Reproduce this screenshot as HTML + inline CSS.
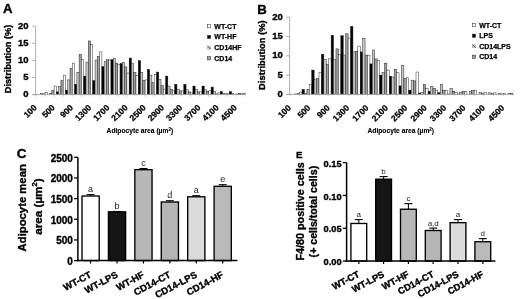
<!DOCTYPE html>
<html><head><meta charset="utf-8"><title>Figure</title>
<style>html,body{margin:0;padding:0;background:#fff;}svg{display:block;will-change:transform;filter:blur(0.3px);}text{font-family:"Liberation Sans",sans-serif;}text[font-weight="bold"]{stroke:#000;stroke-linejoin:round;}</style>
</head><body>
<svg width="520" height="299" viewBox="0 0 520 299">
<defs><pattern id="hatch" patternUnits="userSpaceOnUse" width="2" height="2"><rect width="2" height="2" fill="#e6e6e6"/><path d="M-0.5,-0.5 L2.5,2.5" stroke="#8a8a8a" stroke-width="0.6"/></pattern></defs>
<rect x="0" y="0" width="520" height="299" fill="#fff"/>
<text x="3.00" y="12.50" font-size="13.2" text-anchor="start" font-weight="bold" fill="#000" stroke-width="0.35">A</text>
<rect x="35.90" y="94.43" width="2.27" height="0.17" fill="#ffffff" stroke="#1a1a1a" stroke-width="0.45"/>
<rect x="40.45" y="93.57" width="2.27" height="1.03" fill="#c6c6c6" stroke="#1a1a1a" stroke-width="0.45"/>
<rect x="42.72" y="93.92" width="2.27" height="0.68" fill="#a0a0a0" stroke="#1a1a1a" stroke-width="0.45"/>
<rect x="45.00" y="92.55" width="2.27" height="2.05" fill="#ffffff" stroke="#1a1a1a" stroke-width="0.45"/>
<rect x="49.55" y="93.57" width="2.27" height="1.03" fill="#c6c6c6" stroke="#1a1a1a" stroke-width="0.45"/>
<rect x="51.83" y="90.15" width="2.27" height="4.45" fill="#a0a0a0" stroke="#1a1a1a" stroke-width="0.45"/>
<rect x="54.10" y="86.05" width="2.27" height="8.55" fill="#ffffff" stroke="#1a1a1a" stroke-width="0.45"/>
<rect x="56.37" y="91.86" width="2.27" height="2.74" fill="#000000" stroke="#1a1a1a" stroke-width="0.45"/>
<rect x="58.65" y="86.73" width="2.27" height="7.87" fill="#c6c6c6" stroke="#1a1a1a" stroke-width="0.45"/>
<rect x="60.92" y="80.58" width="2.27" height="14.02" fill="#a0a0a0" stroke="#1a1a1a" stroke-width="0.45"/>
<rect x="63.20" y="75.11" width="2.27" height="19.49" fill="#ffffff" stroke="#1a1a1a" stroke-width="0.45"/>
<rect x="65.47" y="90.15" width="2.27" height="4.45" fill="#000000" stroke="#1a1a1a" stroke-width="0.45"/>
<rect x="67.75" y="79.89" width="2.27" height="14.71" fill="#c6c6c6" stroke="#1a1a1a" stroke-width="0.45"/>
<rect x="70.02" y="68.27" width="2.27" height="26.33" fill="#a0a0a0" stroke="#1a1a1a" stroke-width="0.45"/>
<rect x="72.30" y="63.14" width="2.27" height="31.46" fill="#ffffff" stroke="#1a1a1a" stroke-width="0.45"/>
<rect x="74.58" y="84.34" width="2.27" height="10.26" fill="#000000" stroke="#1a1a1a" stroke-width="0.45"/>
<rect x="76.85" y="72.37" width="2.27" height="22.23" fill="#c6c6c6" stroke="#1a1a1a" stroke-width="0.45"/>
<rect x="79.12" y="54.24" width="2.27" height="40.36" fill="#a0a0a0" stroke="#1a1a1a" stroke-width="0.45"/>
<rect x="81.40" y="59.37" width="2.27" height="35.23" fill="#ffffff" stroke="#1a1a1a" stroke-width="0.45"/>
<rect x="83.68" y="76.13" width="2.27" height="18.47" fill="#000000" stroke="#1a1a1a" stroke-width="0.45"/>
<rect x="85.95" y="62.11" width="2.27" height="32.49" fill="#c6c6c6" stroke="#1a1a1a" stroke-width="0.45"/>
<rect x="88.23" y="40.91" width="2.27" height="53.69" fill="#a0a0a0" stroke="#1a1a1a" stroke-width="0.45"/>
<rect x="90.50" y="44.67" width="2.27" height="49.93" fill="#ffffff" stroke="#1a1a1a" stroke-width="0.45"/>
<rect x="92.78" y="80.58" width="2.27" height="14.02" fill="#000000" stroke="#1a1a1a" stroke-width="0.45"/>
<rect x="95.05" y="60.06" width="2.27" height="34.54" fill="#c6c6c6" stroke="#1a1a1a" stroke-width="0.45"/>
<rect x="97.33" y="56.30" width="2.27" height="38.30" fill="#a0a0a0" stroke="#1a1a1a" stroke-width="0.45"/>
<rect x="99.60" y="51.85" width="2.27" height="42.75" fill="#ffffff" stroke="#1a1a1a" stroke-width="0.45"/>
<rect x="101.88" y="66.56" width="2.27" height="28.04" fill="#000000" stroke="#1a1a1a" stroke-width="0.45"/>
<rect x="104.15" y="61.77" width="2.27" height="32.83" fill="#c6c6c6" stroke="#1a1a1a" stroke-width="0.45"/>
<rect x="106.42" y="59.72" width="2.27" height="34.88" fill="#a0a0a0" stroke="#1a1a1a" stroke-width="0.45"/>
<rect x="108.70" y="60.06" width="2.27" height="34.54" fill="#ffffff" stroke="#1a1a1a" stroke-width="0.45"/>
<rect x="110.97" y="59.72" width="2.27" height="34.88" fill="#000000" stroke="#1a1a1a" stroke-width="0.45"/>
<rect x="113.25" y="58.69" width="2.27" height="35.91" fill="#c6c6c6" stroke="#1a1a1a" stroke-width="0.45"/>
<rect x="115.52" y="63.14" width="2.27" height="31.46" fill="#a0a0a0" stroke="#1a1a1a" stroke-width="0.45"/>
<rect x="117.80" y="64.50" width="2.27" height="30.10" fill="#ffffff" stroke="#1a1a1a" stroke-width="0.45"/>
<rect x="120.07" y="63.48" width="2.27" height="31.12" fill="#000000" stroke="#1a1a1a" stroke-width="0.45"/>
<rect x="122.35" y="62.45" width="2.27" height="32.15" fill="#c6c6c6" stroke="#1a1a1a" stroke-width="0.45"/>
<rect x="124.62" y="66.90" width="2.27" height="27.70" fill="#a0a0a0" stroke="#1a1a1a" stroke-width="0.45"/>
<rect x="126.90" y="73.05" width="2.27" height="21.55" fill="#ffffff" stroke="#1a1a1a" stroke-width="0.45"/>
<rect x="129.18" y="58.01" width="2.27" height="36.59" fill="#000000" stroke="#1a1a1a" stroke-width="0.45"/>
<rect x="131.45" y="63.14" width="2.27" height="31.46" fill="#c6c6c6" stroke="#1a1a1a" stroke-width="0.45"/>
<rect x="133.72" y="72.37" width="2.27" height="22.23" fill="#a0a0a0" stroke="#1a1a1a" stroke-width="0.45"/>
<rect x="136.00" y="75.45" width="2.27" height="19.15" fill="#ffffff" stroke="#1a1a1a" stroke-width="0.45"/>
<rect x="138.28" y="60.74" width="2.27" height="33.86" fill="#000000" stroke="#1a1a1a" stroke-width="0.45"/>
<rect x="140.55" y="72.37" width="2.27" height="22.23" fill="#c6c6c6" stroke="#1a1a1a" stroke-width="0.45"/>
<rect x="142.82" y="80.24" width="2.27" height="14.36" fill="#a0a0a0" stroke="#1a1a1a" stroke-width="0.45"/>
<rect x="145.10" y="79.89" width="2.27" height="14.71" fill="#ffffff" stroke="#1a1a1a" stroke-width="0.45"/>
<rect x="147.38" y="69.29" width="2.27" height="25.31" fill="#000000" stroke="#1a1a1a" stroke-width="0.45"/>
<rect x="149.65" y="75.11" width="2.27" height="19.49" fill="#c6c6c6" stroke="#1a1a1a" stroke-width="0.45"/>
<rect x="151.92" y="82.63" width="2.27" height="11.97" fill="#a0a0a0" stroke="#1a1a1a" stroke-width="0.45"/>
<rect x="154.20" y="74.76" width="2.27" height="19.84" fill="#ffffff" stroke="#1a1a1a" stroke-width="0.45"/>
<rect x="156.47" y="72.03" width="2.27" height="22.57" fill="#000000" stroke="#1a1a1a" stroke-width="0.45"/>
<rect x="158.75" y="79.21" width="2.27" height="15.39" fill="#c6c6c6" stroke="#1a1a1a" stroke-width="0.45"/>
<rect x="161.02" y="85.71" width="2.27" height="8.89" fill="#a0a0a0" stroke="#1a1a1a" stroke-width="0.45"/>
<rect x="163.30" y="89.13" width="2.27" height="5.47" fill="#ffffff" stroke="#1a1a1a" stroke-width="0.45"/>
<rect x="165.57" y="76.13" width="2.27" height="18.47" fill="#000000" stroke="#1a1a1a" stroke-width="0.45"/>
<rect x="167.85" y="86.05" width="2.27" height="8.55" fill="#c6c6c6" stroke="#1a1a1a" stroke-width="0.45"/>
<rect x="170.12" y="89.13" width="2.27" height="5.47" fill="#a0a0a0" stroke="#1a1a1a" stroke-width="0.45"/>
<rect x="172.40" y="90.84" width="2.27" height="3.76" fill="#ffffff" stroke="#1a1a1a" stroke-width="0.45"/>
<rect x="174.68" y="84.34" width="2.27" height="10.26" fill="#000000" stroke="#1a1a1a" stroke-width="0.45"/>
<rect x="176.95" y="89.13" width="2.27" height="5.47" fill="#c6c6c6" stroke="#1a1a1a" stroke-width="0.45"/>
<rect x="179.22" y="90.84" width="2.27" height="3.76" fill="#a0a0a0" stroke="#1a1a1a" stroke-width="0.45"/>
<rect x="181.50" y="90.84" width="2.27" height="3.76" fill="#ffffff" stroke="#1a1a1a" stroke-width="0.45"/>
<rect x="183.78" y="84.34" width="2.27" height="10.26" fill="#000000" stroke="#1a1a1a" stroke-width="0.45"/>
<rect x="186.05" y="89.81" width="2.27" height="4.79" fill="#c6c6c6" stroke="#1a1a1a" stroke-width="0.45"/>
<rect x="188.32" y="91.86" width="2.27" height="2.74" fill="#a0a0a0" stroke="#1a1a1a" stroke-width="0.45"/>
<rect x="190.60" y="92.89" width="2.27" height="1.71" fill="#ffffff" stroke="#1a1a1a" stroke-width="0.45"/>
<rect x="192.88" y="86.05" width="2.27" height="8.55" fill="#000000" stroke="#1a1a1a" stroke-width="0.45"/>
<rect x="195.15" y="89.13" width="2.27" height="5.47" fill="#c6c6c6" stroke="#1a1a1a" stroke-width="0.45"/>
<rect x="197.42" y="91.86" width="2.27" height="2.74" fill="#a0a0a0" stroke="#1a1a1a" stroke-width="0.45"/>
<rect x="199.70" y="91.86" width="2.27" height="2.74" fill="#ffffff" stroke="#1a1a1a" stroke-width="0.45"/>
<rect x="201.97" y="86.05" width="2.27" height="8.55" fill="#000000" stroke="#1a1a1a" stroke-width="0.45"/>
<rect x="204.25" y="89.81" width="2.27" height="4.79" fill="#c6c6c6" stroke="#1a1a1a" stroke-width="0.45"/>
<rect x="206.52" y="91.18" width="2.27" height="3.42" fill="#a0a0a0" stroke="#1a1a1a" stroke-width="0.45"/>
<rect x="208.80" y="90.84" width="2.27" height="3.76" fill="#ffffff" stroke="#1a1a1a" stroke-width="0.45"/>
<rect x="211.08" y="87.08" width="2.27" height="7.52" fill="#000000" stroke="#1a1a1a" stroke-width="0.45"/>
<rect x="213.35" y="91.18" width="2.27" height="3.42" fill="#c6c6c6" stroke="#1a1a1a" stroke-width="0.45"/>
<rect x="215.62" y="93.92" width="2.27" height="0.68" fill="#a0a0a0" stroke="#1a1a1a" stroke-width="0.45"/>
<rect x="217.90" y="92.89" width="2.27" height="1.71" fill="#ffffff" stroke="#1a1a1a" stroke-width="0.45"/>
<rect x="220.18" y="91.69" width="2.27" height="2.91" fill="#000000" stroke="#1a1a1a" stroke-width="0.45"/>
<rect x="222.45" y="93.23" width="2.27" height="1.37" fill="#c6c6c6" stroke="#1a1a1a" stroke-width="0.45"/>
<rect x="224.72" y="93.92" width="2.27" height="0.68" fill="#a0a0a0" stroke="#1a1a1a" stroke-width="0.45"/>
<rect x="227.00" y="93.23" width="2.27" height="1.37" fill="#ffffff" stroke="#1a1a1a" stroke-width="0.45"/>
<rect x="229.28" y="91.69" width="2.27" height="2.91" fill="#000000" stroke="#1a1a1a" stroke-width="0.45"/>
<rect x="231.55" y="93.57" width="2.27" height="1.03" fill="#c6c6c6" stroke="#1a1a1a" stroke-width="0.45"/>
<rect x="233.82" y="94.26" width="2.27" height="0.34" fill="#a0a0a0" stroke="#1a1a1a" stroke-width="0.45"/>
<rect x="236.10" y="93.92" width="2.27" height="0.68" fill="#ffffff" stroke="#1a1a1a" stroke-width="0.45"/>
<rect x="238.38" y="93.57" width="2.27" height="1.03" fill="#000000" stroke="#1a1a1a" stroke-width="0.45"/>
<rect x="240.65" y="93.92" width="2.27" height="0.68" fill="#c6c6c6" stroke="#1a1a1a" stroke-width="0.45"/>
<rect x="242.92" y="93.57" width="2.27" height="1.03" fill="#a0a0a0" stroke="#1a1a1a" stroke-width="0.45"/>
<line x1="35.60" y1="26.20" x2="35.60" y2="94.60" stroke="#a8a8a8" stroke-width="0.9"/>
<line x1="32.10" y1="94.60" x2="245.20" y2="94.60" stroke="#a8a8a8" stroke-width="0.9"/>
<line x1="32.10" y1="94.60" x2="35.60" y2="94.60" stroke="#a8a8a8" stroke-width="0.9"/>
<text x="28.60" y="97.20" font-size="9.5" text-anchor="end" font-weight="bold" fill="#000" stroke-width="0.35">0</text>
<line x1="32.10" y1="77.50" x2="35.60" y2="77.50" stroke="#a8a8a8" stroke-width="0.9"/>
<text x="28.60" y="80.10" font-size="9.5" text-anchor="end" font-weight="bold" fill="#000" stroke-width="0.35">5</text>
<line x1="32.10" y1="60.40" x2="35.60" y2="60.40" stroke="#a8a8a8" stroke-width="0.9"/>
<text x="28.60" y="63.00" font-size="9.5" text-anchor="end" font-weight="bold" fill="#000" stroke-width="0.35">10</text>
<line x1="32.10" y1="43.30" x2="35.60" y2="43.30" stroke="#a8a8a8" stroke-width="0.9"/>
<text x="28.60" y="45.90" font-size="9.5" text-anchor="end" font-weight="bold" fill="#000" stroke-width="0.35">15</text>
<line x1="32.10" y1="26.20" x2="35.60" y2="26.20" stroke="#a8a8a8" stroke-width="0.9"/>
<text x="28.60" y="28.80" font-size="9.5" text-anchor="end" font-weight="bold" fill="#000" stroke-width="0.35">20</text>
<line x1="35.90" y1="94.60" x2="35.90" y2="96.60" stroke="#b0b0b0" stroke-width="0.6"/>
<line x1="45.00" y1="94.60" x2="45.00" y2="96.60" stroke="#b0b0b0" stroke-width="0.6"/>
<line x1="54.10" y1="94.60" x2="54.10" y2="96.60" stroke="#b0b0b0" stroke-width="0.6"/>
<line x1="63.20" y1="94.60" x2="63.20" y2="96.60" stroke="#b0b0b0" stroke-width="0.6"/>
<line x1="72.30" y1="94.60" x2="72.30" y2="96.60" stroke="#b0b0b0" stroke-width="0.6"/>
<line x1="81.40" y1="94.60" x2="81.40" y2="96.60" stroke="#b0b0b0" stroke-width="0.6"/>
<line x1="90.50" y1="94.60" x2="90.50" y2="96.60" stroke="#b0b0b0" stroke-width="0.6"/>
<line x1="99.60" y1="94.60" x2="99.60" y2="96.60" stroke="#b0b0b0" stroke-width="0.6"/>
<line x1="108.70" y1="94.60" x2="108.70" y2="96.60" stroke="#b0b0b0" stroke-width="0.6"/>
<line x1="117.80" y1="94.60" x2="117.80" y2="96.60" stroke="#b0b0b0" stroke-width="0.6"/>
<line x1="126.90" y1="94.60" x2="126.90" y2="96.60" stroke="#b0b0b0" stroke-width="0.6"/>
<line x1="136.00" y1="94.60" x2="136.00" y2="96.60" stroke="#b0b0b0" stroke-width="0.6"/>
<line x1="145.10" y1="94.60" x2="145.10" y2="96.60" stroke="#b0b0b0" stroke-width="0.6"/>
<line x1="154.20" y1="94.60" x2="154.20" y2="96.60" stroke="#b0b0b0" stroke-width="0.6"/>
<line x1="163.30" y1="94.60" x2="163.30" y2="96.60" stroke="#b0b0b0" stroke-width="0.6"/>
<line x1="172.40" y1="94.60" x2="172.40" y2="96.60" stroke="#b0b0b0" stroke-width="0.6"/>
<line x1="181.50" y1="94.60" x2="181.50" y2="96.60" stroke="#b0b0b0" stroke-width="0.6"/>
<line x1="190.60" y1="94.60" x2="190.60" y2="96.60" stroke="#b0b0b0" stroke-width="0.6"/>
<line x1="199.70" y1="94.60" x2="199.70" y2="96.60" stroke="#b0b0b0" stroke-width="0.6"/>
<line x1="208.80" y1="94.60" x2="208.80" y2="96.60" stroke="#b0b0b0" stroke-width="0.6"/>
<line x1="217.90" y1="94.60" x2="217.90" y2="96.60" stroke="#b0b0b0" stroke-width="0.6"/>
<line x1="227.00" y1="94.60" x2="227.00" y2="96.60" stroke="#b0b0b0" stroke-width="0.6"/>
<line x1="236.10" y1="94.60" x2="236.10" y2="96.60" stroke="#b0b0b0" stroke-width="0.6"/>
<line x1="245.20" y1="94.60" x2="245.20" y2="96.60" stroke="#b0b0b0" stroke-width="0.6"/>
<text x="11.00" y="59.00" font-size="9.2" text-anchor="middle" font-weight="bold" fill="#000" stroke-width="0.35" transform="rotate(-90 11.00 59.00)">Distribution (%)</text>
<text x="37.25" y="108.20" font-size="8.5" text-anchor="end" font-weight="bold" fill="#000" stroke-width="0.25" transform="rotate(-45 37.25 108.20)">100</text>
<text x="55.45" y="108.20" font-size="8.5" text-anchor="end" font-weight="bold" fill="#000" stroke-width="0.25" transform="rotate(-45 55.45 108.20)">500</text>
<text x="73.65" y="108.20" font-size="8.5" text-anchor="end" font-weight="bold" fill="#000" stroke-width="0.25" transform="rotate(-45 73.65 108.20)">900</text>
<text x="91.85" y="108.20" font-size="8.5" text-anchor="end" font-weight="bold" fill="#000" stroke-width="0.25" transform="rotate(-45 91.85 108.20)">1300</text>
<text x="110.05" y="108.20" font-size="8.5" text-anchor="end" font-weight="bold" fill="#000" stroke-width="0.25" transform="rotate(-45 110.05 108.20)">1700</text>
<text x="128.25" y="108.20" font-size="8.5" text-anchor="end" font-weight="bold" fill="#000" stroke-width="0.25" transform="rotate(-45 128.25 108.20)">2100</text>
<text x="146.45" y="108.20" font-size="8.5" text-anchor="end" font-weight="bold" fill="#000" stroke-width="0.25" transform="rotate(-45 146.45 108.20)">2500</text>
<text x="164.65" y="108.20" font-size="8.5" text-anchor="end" font-weight="bold" fill="#000" stroke-width="0.25" transform="rotate(-45 164.65 108.20)">2900</text>
<text x="182.85" y="108.20" font-size="8.5" text-anchor="end" font-weight="bold" fill="#000" stroke-width="0.25" transform="rotate(-45 182.85 108.20)">3300</text>
<text x="201.05" y="108.20" font-size="8.5" text-anchor="end" font-weight="bold" fill="#000" stroke-width="0.25" transform="rotate(-45 201.05 108.20)">3700</text>
<text x="219.25" y="108.20" font-size="8.5" text-anchor="end" font-weight="bold" fill="#000" stroke-width="0.25" transform="rotate(-45 219.25 108.20)">4100</text>
<text x="237.45" y="108.20" font-size="8.5" text-anchor="end" font-weight="bold" fill="#000" stroke-width="0.25" transform="rotate(-45 237.45 108.20)">4500</text>
<text x="106.60" y="133.20" font-size="6.7" font-weight="bold" stroke-width="0.12">Adipocyte area (µm<tspan font-size="4.5" dy="-2.4">2</tspan><tspan dy="2.4">)</tspan></text>
<rect x="207.50" y="24.60" width="3.20" height="3.20" fill="#ffffff" stroke="#333" stroke-width="0.55"/>
<text x="214.30" y="28.50" font-size="7" text-anchor="start" font-weight="bold" fill="#000" stroke-width="0.25">WT-CT</text>
<rect x="207.50" y="35.30" width="3.20" height="3.20" fill="#000000" stroke="#333" stroke-width="0.55"/>
<text x="214.30" y="39.20" font-size="7" text-anchor="start" font-weight="bold" fill="#000" stroke-width="0.25">WT-HF</text>
<rect x="207.50" y="46.00" width="3.20" height="3.20" fill="#dcdcdc" stroke="#999" stroke-width="0.4"/>
<line x1="207.70" y1="46.20" x2="210.50" y2="49.00" stroke="#333" stroke-width="0.95"/>
<text x="214.30" y="49.90" font-size="7" text-anchor="start" font-weight="bold" fill="#000" stroke-width="0.25">CD14HF</text>
<rect x="207.50" y="56.70" width="3.20" height="3.20" fill="#a0a0a0" stroke="#333" stroke-width="0.55"/>
<text x="214.30" y="60.60" font-size="7" text-anchor="start" font-weight="bold" fill="#000" stroke-width="0.25">CD14</text>
<text x="257.30" y="13.60" font-size="13.2" text-anchor="start" font-weight="bold" fill="#000" stroke-width="0.35">B</text>
<rect x="289.90" y="94.21" width="2.42" height="0.19" fill="#ffffff" stroke="#1a1a1a" stroke-width="0.45"/>
<rect x="294.75" y="94.01" width="2.42" height="0.39" fill="#c6c6c6" stroke="#1a1a1a" stroke-width="0.45"/>
<rect x="297.17" y="93.63" width="2.42" height="0.77" fill="#a0a0a0" stroke="#1a1a1a" stroke-width="0.45"/>
<rect x="299.60" y="92.08" width="2.42" height="2.32" fill="#ffffff" stroke="#1a1a1a" stroke-width="0.45"/>
<rect x="302.02" y="89.38" width="2.42" height="5.02" fill="#000000" stroke="#1a1a1a" stroke-width="0.45"/>
<rect x="304.45" y="93.24" width="2.42" height="1.16" fill="#c6c6c6" stroke="#1a1a1a" stroke-width="0.45"/>
<rect x="306.87" y="89.38" width="2.42" height="5.02" fill="#a0a0a0" stroke="#1a1a1a" stroke-width="0.45"/>
<rect x="309.30" y="84.75" width="2.42" height="9.65" fill="#ffffff" stroke="#1a1a1a" stroke-width="0.45"/>
<rect x="311.72" y="70.08" width="2.42" height="24.32" fill="#000000" stroke="#1a1a1a" stroke-width="0.45"/>
<rect x="314.15" y="79.73" width="2.42" height="14.67" fill="#c6c6c6" stroke="#1a1a1a" stroke-width="0.45"/>
<rect x="316.57" y="78.57" width="2.42" height="15.83" fill="#a0a0a0" stroke="#1a1a1a" stroke-width="0.45"/>
<rect x="319.00" y="72.40" width="2.42" height="22.00" fill="#ffffff" stroke="#1a1a1a" stroke-width="0.45"/>
<rect x="321.43" y="54.26" width="2.42" height="40.14" fill="#000000" stroke="#1a1a1a" stroke-width="0.45"/>
<rect x="323.85" y="59.27" width="2.42" height="35.13" fill="#c6c6c6" stroke="#1a1a1a" stroke-width="0.45"/>
<rect x="326.27" y="64.68" width="2.42" height="29.72" fill="#a0a0a0" stroke="#1a1a1a" stroke-width="0.45"/>
<rect x="328.70" y="58.89" width="2.42" height="35.51" fill="#ffffff" stroke="#1a1a1a" stroke-width="0.45"/>
<rect x="331.12" y="35.34" width="2.42" height="59.06" fill="#000000" stroke="#1a1a1a" stroke-width="0.45"/>
<rect x="333.55" y="59.66" width="2.42" height="34.74" fill="#c6c6c6" stroke="#1a1a1a" stroke-width="0.45"/>
<rect x="335.97" y="48.85" width="2.42" height="45.55" fill="#a0a0a0" stroke="#1a1a1a" stroke-width="0.45"/>
<rect x="338.40" y="54.64" width="2.42" height="39.76" fill="#ffffff" stroke="#1a1a1a" stroke-width="0.45"/>
<rect x="340.82" y="35.73" width="2.42" height="58.67" fill="#000000" stroke="#1a1a1a" stroke-width="0.45"/>
<rect x="343.25" y="55.03" width="2.42" height="39.37" fill="#c6c6c6" stroke="#1a1a1a" stroke-width="0.45"/>
<rect x="345.67" y="33.80" width="2.42" height="60.60" fill="#a0a0a0" stroke="#1a1a1a" stroke-width="0.45"/>
<rect x="348.10" y="38.04" width="2.42" height="56.36" fill="#ffffff" stroke="#1a1a1a" stroke-width="0.45"/>
<rect x="350.52" y="26.46" width="2.42" height="67.94" fill="#000000" stroke="#1a1a1a" stroke-width="0.45"/>
<rect x="352.95" y="51.94" width="2.42" height="42.46" fill="#c6c6c6" stroke="#1a1a1a" stroke-width="0.45"/>
<rect x="355.37" y="51.17" width="2.42" height="43.23" fill="#a0a0a0" stroke="#1a1a1a" stroke-width="0.45"/>
<rect x="357.80" y="46.15" width="2.42" height="48.25" fill="#ffffff" stroke="#1a1a1a" stroke-width="0.45"/>
<rect x="360.22" y="51.94" width="2.42" height="42.46" fill="#000000" stroke="#1a1a1a" stroke-width="0.45"/>
<rect x="362.65" y="38.43" width="2.42" height="55.97" fill="#c6c6c6" stroke="#1a1a1a" stroke-width="0.45"/>
<rect x="365.07" y="55.03" width="2.42" height="39.37" fill="#a0a0a0" stroke="#1a1a1a" stroke-width="0.45"/>
<rect x="367.50" y="55.41" width="2.42" height="38.99" fill="#ffffff" stroke="#1a1a1a" stroke-width="0.45"/>
<rect x="369.93" y="63.91" width="2.42" height="30.49" fill="#000000" stroke="#1a1a1a" stroke-width="0.45"/>
<rect x="372.35" y="50.01" width="2.42" height="44.39" fill="#c6c6c6" stroke="#1a1a1a" stroke-width="0.45"/>
<rect x="374.77" y="58.89" width="2.42" height="35.51" fill="#a0a0a0" stroke="#1a1a1a" stroke-width="0.45"/>
<rect x="377.20" y="60.43" width="2.42" height="33.97" fill="#ffffff" stroke="#1a1a1a" stroke-width="0.45"/>
<rect x="379.62" y="75.10" width="2.42" height="19.30" fill="#000000" stroke="#1a1a1a" stroke-width="0.45"/>
<rect x="382.05" y="72.40" width="2.42" height="22.00" fill="#c6c6c6" stroke="#1a1a1a" stroke-width="0.45"/>
<rect x="384.47" y="63.13" width="2.42" height="31.27" fill="#a0a0a0" stroke="#1a1a1a" stroke-width="0.45"/>
<rect x="386.90" y="70.08" width="2.42" height="24.32" fill="#ffffff" stroke="#1a1a1a" stroke-width="0.45"/>
<rect x="389.32" y="76.26" width="2.42" height="18.14" fill="#000000" stroke="#1a1a1a" stroke-width="0.45"/>
<rect x="391.75" y="77.03" width="2.42" height="17.37" fill="#c6c6c6" stroke="#1a1a1a" stroke-width="0.45"/>
<rect x="394.17" y="69.31" width="2.42" height="25.09" fill="#a0a0a0" stroke="#1a1a1a" stroke-width="0.45"/>
<rect x="396.60" y="72.78" width="2.42" height="21.62" fill="#ffffff" stroke="#1a1a1a" stroke-width="0.45"/>
<rect x="399.02" y="85.91" width="2.42" height="8.49" fill="#000000" stroke="#1a1a1a" stroke-width="0.45"/>
<rect x="401.45" y="65.45" width="2.42" height="28.95" fill="#c6c6c6" stroke="#1a1a1a" stroke-width="0.45"/>
<rect x="403.87" y="78.19" width="2.42" height="16.21" fill="#a0a0a0" stroke="#1a1a1a" stroke-width="0.45"/>
<rect x="406.30" y="77.80" width="2.42" height="16.60" fill="#ffffff" stroke="#1a1a1a" stroke-width="0.45"/>
<rect x="408.72" y="90.15" width="2.42" height="4.25" fill="#000000" stroke="#1a1a1a" stroke-width="0.45"/>
<rect x="411.15" y="80.12" width="2.42" height="14.28" fill="#c6c6c6" stroke="#1a1a1a" stroke-width="0.45"/>
<rect x="413.57" y="80.89" width="2.42" height="13.51" fill="#a0a0a0" stroke="#1a1a1a" stroke-width="0.45"/>
<rect x="416.00" y="72.01" width="2.42" height="22.39" fill="#ffffff" stroke="#1a1a1a" stroke-width="0.45"/>
<rect x="418.43" y="93.05" width="2.42" height="1.35" fill="#000000" stroke="#1a1a1a" stroke-width="0.45"/>
<rect x="420.85" y="92.47" width="2.42" height="1.93" fill="#c6c6c6" stroke="#1a1a1a" stroke-width="0.45"/>
<rect x="423.27" y="84.36" width="2.42" height="10.04" fill="#a0a0a0" stroke="#1a1a1a" stroke-width="0.45"/>
<rect x="425.70" y="88.22" width="2.42" height="6.18" fill="#ffffff" stroke="#1a1a1a" stroke-width="0.45"/>
<rect x="428.12" y="91.31" width="2.42" height="3.09" fill="#000000" stroke="#1a1a1a" stroke-width="0.45"/>
<rect x="430.55" y="86.29" width="2.42" height="8.11" fill="#c6c6c6" stroke="#1a1a1a" stroke-width="0.45"/>
<rect x="432.97" y="88.22" width="2.42" height="6.18" fill="#a0a0a0" stroke="#1a1a1a" stroke-width="0.45"/>
<rect x="435.40" y="90.15" width="2.42" height="4.25" fill="#ffffff" stroke="#1a1a1a" stroke-width="0.45"/>
<rect x="437.82" y="92.66" width="2.42" height="1.74" fill="#000000" stroke="#1a1a1a" stroke-width="0.45"/>
<rect x="440.25" y="84.36" width="2.42" height="10.04" fill="#c6c6c6" stroke="#1a1a1a" stroke-width="0.45"/>
<rect x="442.67" y="90.15" width="2.42" height="4.25" fill="#a0a0a0" stroke="#1a1a1a" stroke-width="0.45"/>
<rect x="445.10" y="90.15" width="2.42" height="4.25" fill="#ffffff" stroke="#1a1a1a" stroke-width="0.45"/>
<rect x="447.52" y="94.01" width="2.42" height="0.39" fill="#000000" stroke="#1a1a1a" stroke-width="0.45"/>
<rect x="449.95" y="88.22" width="2.42" height="6.18" fill="#c6c6c6" stroke="#1a1a1a" stroke-width="0.45"/>
<rect x="452.37" y="91.31" width="2.42" height="3.09" fill="#a0a0a0" stroke="#1a1a1a" stroke-width="0.45"/>
<rect x="454.80" y="92.47" width="2.42" height="1.93" fill="#ffffff" stroke="#1a1a1a" stroke-width="0.45"/>
<rect x="457.22" y="94.01" width="2.42" height="0.39" fill="#000000" stroke="#1a1a1a" stroke-width="0.45"/>
<rect x="459.65" y="92.08" width="2.42" height="2.32" fill="#c6c6c6" stroke="#1a1a1a" stroke-width="0.45"/>
<rect x="462.07" y="91.31" width="2.42" height="3.09" fill="#a0a0a0" stroke="#1a1a1a" stroke-width="0.45"/>
<rect x="464.50" y="91.31" width="2.42" height="3.09" fill="#ffffff" stroke="#1a1a1a" stroke-width="0.45"/>
<rect x="469.35" y="91.31" width="2.42" height="3.09" fill="#c6c6c6" stroke="#1a1a1a" stroke-width="0.45"/>
<rect x="471.77" y="90.54" width="2.42" height="3.86" fill="#a0a0a0" stroke="#1a1a1a" stroke-width="0.45"/>
<rect x="474.20" y="90.15" width="2.42" height="4.25" fill="#ffffff" stroke="#1a1a1a" stroke-width="0.45"/>
<rect x="479.05" y="92.47" width="2.42" height="1.93" fill="#c6c6c6" stroke="#1a1a1a" stroke-width="0.45"/>
<rect x="481.47" y="93.63" width="2.42" height="0.77" fill="#a0a0a0" stroke="#1a1a1a" stroke-width="0.45"/>
<rect x="483.90" y="92.47" width="2.42" height="1.93" fill="#ffffff" stroke="#1a1a1a" stroke-width="0.45"/>
<rect x="488.75" y="92.86" width="2.42" height="1.54" fill="#c6c6c6" stroke="#1a1a1a" stroke-width="0.45"/>
<rect x="491.17" y="93.63" width="2.42" height="0.77" fill="#a0a0a0" stroke="#1a1a1a" stroke-width="0.45"/>
<rect x="493.60" y="92.86" width="2.42" height="1.54" fill="#ffffff" stroke="#1a1a1a" stroke-width="0.45"/>
<rect x="498.45" y="93.63" width="2.42" height="0.77" fill="#c6c6c6" stroke="#1a1a1a" stroke-width="0.45"/>
<rect x="500.87" y="94.01" width="2.42" height="0.39" fill="#a0a0a0" stroke="#1a1a1a" stroke-width="0.45"/>
<rect x="503.30" y="93.63" width="2.42" height="0.77" fill="#ffffff" stroke="#1a1a1a" stroke-width="0.45"/>
<rect x="508.15" y="93.63" width="2.42" height="0.77" fill="#c6c6c6" stroke="#1a1a1a" stroke-width="0.45"/>
<rect x="510.57" y="93.24" width="2.42" height="1.16" fill="#a0a0a0" stroke="#1a1a1a" stroke-width="0.45"/>
<line x1="289.60" y1="17.20" x2="289.60" y2="94.40" stroke="#a8a8a8" stroke-width="0.9"/>
<line x1="286.10" y1="94.40" x2="513.00" y2="94.40" stroke="#a8a8a8" stroke-width="0.9"/>
<line x1="286.10" y1="94.40" x2="289.60" y2="94.40" stroke="#a8a8a8" stroke-width="0.9"/>
<text x="282.90" y="97.00" font-size="9.5" text-anchor="end" font-weight="bold" fill="#000" stroke-width="0.35">0</text>
<line x1="286.10" y1="75.10" x2="289.60" y2="75.10" stroke="#a8a8a8" stroke-width="0.9"/>
<text x="282.90" y="77.70" font-size="9.5" text-anchor="end" font-weight="bold" fill="#000" stroke-width="0.35">5</text>
<line x1="286.10" y1="55.80" x2="289.60" y2="55.80" stroke="#a8a8a8" stroke-width="0.9"/>
<text x="282.90" y="58.40" font-size="9.5" text-anchor="end" font-weight="bold" fill="#000" stroke-width="0.35">10</text>
<line x1="286.10" y1="36.50" x2="289.60" y2="36.50" stroke="#a8a8a8" stroke-width="0.9"/>
<text x="282.90" y="39.10" font-size="9.5" text-anchor="end" font-weight="bold" fill="#000" stroke-width="0.35">15</text>
<line x1="286.10" y1="17.20" x2="289.60" y2="17.20" stroke="#a8a8a8" stroke-width="0.9"/>
<text x="282.90" y="19.80" font-size="9.5" text-anchor="end" font-weight="bold" fill="#000" stroke-width="0.35">20</text>
<line x1="289.90" y1="94.40" x2="289.90" y2="96.40" stroke="#b0b0b0" stroke-width="0.6"/>
<line x1="299.60" y1="94.40" x2="299.60" y2="96.40" stroke="#b0b0b0" stroke-width="0.6"/>
<line x1="309.30" y1="94.40" x2="309.30" y2="96.40" stroke="#b0b0b0" stroke-width="0.6"/>
<line x1="319.00" y1="94.40" x2="319.00" y2="96.40" stroke="#b0b0b0" stroke-width="0.6"/>
<line x1="328.70" y1="94.40" x2="328.70" y2="96.40" stroke="#b0b0b0" stroke-width="0.6"/>
<line x1="338.40" y1="94.40" x2="338.40" y2="96.40" stroke="#b0b0b0" stroke-width="0.6"/>
<line x1="348.10" y1="94.40" x2="348.10" y2="96.40" stroke="#b0b0b0" stroke-width="0.6"/>
<line x1="357.80" y1="94.40" x2="357.80" y2="96.40" stroke="#b0b0b0" stroke-width="0.6"/>
<line x1="367.50" y1="94.40" x2="367.50" y2="96.40" stroke="#b0b0b0" stroke-width="0.6"/>
<line x1="377.20" y1="94.40" x2="377.20" y2="96.40" stroke="#b0b0b0" stroke-width="0.6"/>
<line x1="386.90" y1="94.40" x2="386.90" y2="96.40" stroke="#b0b0b0" stroke-width="0.6"/>
<line x1="396.60" y1="94.40" x2="396.60" y2="96.40" stroke="#b0b0b0" stroke-width="0.6"/>
<line x1="406.30" y1="94.40" x2="406.30" y2="96.40" stroke="#b0b0b0" stroke-width="0.6"/>
<line x1="416.00" y1="94.40" x2="416.00" y2="96.40" stroke="#b0b0b0" stroke-width="0.6"/>
<line x1="425.70" y1="94.40" x2="425.70" y2="96.40" stroke="#b0b0b0" stroke-width="0.6"/>
<line x1="435.40" y1="94.40" x2="435.40" y2="96.40" stroke="#b0b0b0" stroke-width="0.6"/>
<line x1="445.10" y1="94.40" x2="445.10" y2="96.40" stroke="#b0b0b0" stroke-width="0.6"/>
<line x1="454.80" y1="94.40" x2="454.80" y2="96.40" stroke="#b0b0b0" stroke-width="0.6"/>
<line x1="464.50" y1="94.40" x2="464.50" y2="96.40" stroke="#b0b0b0" stroke-width="0.6"/>
<line x1="474.20" y1="94.40" x2="474.20" y2="96.40" stroke="#b0b0b0" stroke-width="0.6"/>
<line x1="483.90" y1="94.40" x2="483.90" y2="96.40" stroke="#b0b0b0" stroke-width="0.6"/>
<line x1="493.60" y1="94.40" x2="493.60" y2="96.40" stroke="#b0b0b0" stroke-width="0.6"/>
<line x1="503.30" y1="94.40" x2="503.30" y2="96.40" stroke="#b0b0b0" stroke-width="0.6"/>
<line x1="513.00" y1="94.40" x2="513.00" y2="96.40" stroke="#b0b0b0" stroke-width="0.6"/>
<text x="265.40" y="55.10" font-size="9.35" text-anchor="middle" font-weight="bold" fill="#000" stroke-width="0.35" transform="rotate(-90 265.40 55.10)">Distribution (%)</text>
<text x="291.55" y="108.50" font-size="8.5" text-anchor="end" font-weight="bold" fill="#000" stroke-width="0.25" transform="rotate(-45 291.55 108.50)">100</text>
<text x="310.95" y="108.50" font-size="8.5" text-anchor="end" font-weight="bold" fill="#000" stroke-width="0.25" transform="rotate(-45 310.95 108.50)">500</text>
<text x="330.35" y="108.50" font-size="8.5" text-anchor="end" font-weight="bold" fill="#000" stroke-width="0.25" transform="rotate(-45 330.35 108.50)">900</text>
<text x="349.75" y="108.50" font-size="8.5" text-anchor="end" font-weight="bold" fill="#000" stroke-width="0.25" transform="rotate(-45 349.75 108.50)">1300</text>
<text x="369.15" y="108.50" font-size="8.5" text-anchor="end" font-weight="bold" fill="#000" stroke-width="0.25" transform="rotate(-45 369.15 108.50)">1700</text>
<text x="388.55" y="108.50" font-size="8.5" text-anchor="end" font-weight="bold" fill="#000" stroke-width="0.25" transform="rotate(-45 388.55 108.50)">2100</text>
<text x="407.95" y="108.50" font-size="8.5" text-anchor="end" font-weight="bold" fill="#000" stroke-width="0.25" transform="rotate(-45 407.95 108.50)">2500</text>
<text x="427.35" y="108.50" font-size="8.5" text-anchor="end" font-weight="bold" fill="#000" stroke-width="0.25" transform="rotate(-45 427.35 108.50)">2900</text>
<text x="446.75" y="108.50" font-size="8.5" text-anchor="end" font-weight="bold" fill="#000" stroke-width="0.25" transform="rotate(-45 446.75 108.50)">3300</text>
<text x="466.15" y="108.50" font-size="8.5" text-anchor="end" font-weight="bold" fill="#000" stroke-width="0.25" transform="rotate(-45 466.15 108.50)">3700</text>
<text x="485.55" y="108.50" font-size="8.5" text-anchor="end" font-weight="bold" fill="#000" stroke-width="0.25" transform="rotate(-45 485.55 108.50)">4100</text>
<text x="504.95" y="108.50" font-size="8.5" text-anchor="end" font-weight="bold" fill="#000" stroke-width="0.25" transform="rotate(-45 504.95 108.50)">4500</text>
<text x="367.50" y="133.20" font-size="6.7" font-weight="bold" stroke-width="0.12">Adipocyte area (µm<tspan font-size="4.5" dy="-2.4">2</tspan><tspan dy="2.4">)</tspan></text>
<rect x="472.40" y="23.60" width="3.20" height="3.20" fill="#ffffff" stroke="#333" stroke-width="0.55"/>
<text x="479.20" y="27.50" font-size="7" text-anchor="start" font-weight="bold" fill="#000" stroke-width="0.25">WT-CT</text>
<rect x="472.40" y="34.10" width="3.20" height="3.20" fill="#000000" stroke="#333" stroke-width="0.55"/>
<text x="479.20" y="38.00" font-size="7" text-anchor="start" font-weight="bold" fill="#000" stroke-width="0.25">LPS</text>
<rect x="472.40" y="44.60" width="3.20" height="3.20" fill="#dcdcdc" stroke="#999" stroke-width="0.4"/>
<line x1="472.60" y1="44.80" x2="475.40" y2="47.60" stroke="#333" stroke-width="0.95"/>
<text x="479.20" y="48.50" font-size="7" text-anchor="start" font-weight="bold" fill="#000" stroke-width="0.25">CD14LPS</text>
<rect x="472.40" y="55.10" width="3.20" height="3.20" fill="#a0a0a0" stroke="#333" stroke-width="0.55"/>
<text x="479.20" y="59.00" font-size="7" text-anchor="start" font-weight="bold" fill="#000" stroke-width="0.25">CD14</text>
<text x="16.80" y="158.00" font-size="13.5" text-anchor="start" font-weight="bold" fill="#000" stroke-width="0.35">C</text>
<line x1="90.60" y1="196.02" x2="90.60" y2="194.61" stroke="#000" stroke-width="1.0"/>
<line x1="86.60" y1="194.61" x2="94.60" y2="194.61" stroke="#000" stroke-width="1.1"/>
<rect x="82.00" y="196.02" width="17.20" height="64.58" fill="#ffffff" stroke="#000" stroke-width="1.35"/>
<text x="90.60" y="192.31" font-size="9.0" text-anchor="middle" font-weight="normal" fill="#222">a</text>
<line x1="90.60" y1="260.60" x2="90.60" y2="263.60" stroke="#000" stroke-width="1.2"/>
<text x="92.10" y="276.80" font-size="9.5" text-anchor="end" font-weight="bold" fill="#000" stroke-width="0.35" transform="rotate(-28 92.10 276.80)">WT-CT</text>
<line x1="117.02" y1="211.80" x2="117.02" y2="211.47" stroke="#000" stroke-width="1.0"/>
<line x1="113.02" y1="211.47" x2="121.02" y2="211.47" stroke="#000" stroke-width="1.1"/>
<rect x="108.42" y="211.80" width="17.20" height="48.80" fill="#151515" stroke="#000" stroke-width="1.35"/>
<text x="117.02" y="209.17" font-size="9.0" text-anchor="middle" font-weight="normal" fill="#222">b</text>
<line x1="117.02" y1="260.60" x2="117.02" y2="263.60" stroke="#000" stroke-width="1.2"/>
<text x="118.52" y="276.80" font-size="9.5" text-anchor="end" font-weight="bold" fill="#000" stroke-width="0.35" transform="rotate(-28 118.52 276.80)">WT-LPS</text>
<line x1="143.44" y1="169.70" x2="143.44" y2="168.50" stroke="#000" stroke-width="1.0"/>
<line x1="139.44" y1="168.50" x2="147.44" y2="168.50" stroke="#000" stroke-width="1.1"/>
<rect x="134.84" y="169.70" width="17.20" height="90.90" fill="#b8b8b8" stroke="#000" stroke-width="1.35"/>
<text x="143.44" y="166.20" font-size="9.0" text-anchor="middle" font-weight="normal" fill="#222">c</text>
<line x1="143.44" y1="260.60" x2="143.44" y2="263.60" stroke="#000" stroke-width="1.2"/>
<text x="144.94" y="276.80" font-size="9.5" text-anchor="end" font-weight="bold" fill="#000" stroke-width="0.35" transform="rotate(-28 144.94 276.80)">WT-HF</text>
<line x1="169.86" y1="202.01" x2="169.86" y2="200.73" stroke="#000" stroke-width="1.0"/>
<line x1="165.86" y1="200.73" x2="173.86" y2="200.73" stroke="#000" stroke-width="1.1"/>
<rect x="161.26" y="202.01" width="17.20" height="58.59" fill="#b5b5b5" stroke="#000" stroke-width="1.35"/>
<text x="169.86" y="198.43" font-size="9.0" text-anchor="middle" font-weight="normal" fill="#222">d</text>
<line x1="169.86" y1="260.60" x2="169.86" y2="263.60" stroke="#000" stroke-width="1.2"/>
<text x="171.36" y="276.80" font-size="9.5" text-anchor="end" font-weight="bold" fill="#000" stroke-width="0.35" transform="rotate(-28 171.36 276.80)">CD14-CT</text>
<line x1="196.28" y1="196.80" x2="196.28" y2="195.69" stroke="#000" stroke-width="1.0"/>
<line x1="192.28" y1="195.69" x2="200.28" y2="195.69" stroke="#000" stroke-width="1.1"/>
<rect x="187.68" y="196.80" width="17.20" height="63.80" fill="#dbdbdb" stroke="#000" stroke-width="1.35"/>
<text x="196.28" y="193.39" font-size="9.0" text-anchor="middle" font-weight="normal" fill="#222">a</text>
<line x1="196.28" y1="260.60" x2="196.28" y2="263.60" stroke="#000" stroke-width="1.2"/>
<text x="197.78" y="276.80" font-size="9.5" text-anchor="end" font-weight="bold" fill="#000" stroke-width="0.35" transform="rotate(-28 197.78 276.80)">CD14-LPS</text>
<line x1="222.70" y1="186.31" x2="222.70" y2="184.70" stroke="#000" stroke-width="1.0"/>
<line x1="218.70" y1="184.70" x2="226.70" y2="184.70" stroke="#000" stroke-width="1.1"/>
<rect x="214.10" y="186.31" width="17.20" height="74.29" fill="#b9b9b9" stroke="#000" stroke-width="1.35"/>
<text x="222.70" y="182.40" font-size="9.0" text-anchor="middle" font-weight="normal" fill="#222">e</text>
<line x1="222.70" y1="260.60" x2="222.70" y2="263.60" stroke="#000" stroke-width="1.2"/>
<text x="224.20" y="276.80" font-size="9.5" text-anchor="end" font-weight="bold" fill="#000" stroke-width="0.35" transform="rotate(-28 224.20 276.80)">CD14-HF</text>
<line x1="77.90" y1="157.30" x2="77.90" y2="261.30" stroke="#000" stroke-width="1.5"/>
<line x1="77.20" y1="260.60" x2="237.40" y2="260.60" stroke="#000" stroke-width="1.5"/>
<line x1="74.10" y1="260.60" x2="77.90" y2="260.60" stroke="#000" stroke-width="1.3"/>
<text x="72.90" y="265.10" font-size="10" text-anchor="end" font-weight="bold" fill="#000" stroke-width="0.35">0</text>
<line x1="74.10" y1="239.94" x2="77.90" y2="239.94" stroke="#000" stroke-width="1.3"/>
<text x="72.90" y="244.44" font-size="10" text-anchor="end" font-weight="bold" fill="#000" stroke-width="0.35">500</text>
<line x1="74.10" y1="219.28" x2="77.90" y2="219.28" stroke="#000" stroke-width="1.3"/>
<text x="72.90" y="223.78" font-size="10" text-anchor="end" font-weight="bold" fill="#000" stroke-width="0.35">1000</text>
<line x1="74.10" y1="198.62" x2="77.90" y2="198.62" stroke="#000" stroke-width="1.3"/>
<text x="72.90" y="203.12" font-size="10" text-anchor="end" font-weight="bold" fill="#000" stroke-width="0.35">1500</text>
<line x1="74.10" y1="177.96" x2="77.90" y2="177.96" stroke="#000" stroke-width="1.3"/>
<text x="72.90" y="182.46" font-size="10" text-anchor="end" font-weight="bold" fill="#000" stroke-width="0.35">2000</text>
<line x1="74.10" y1="157.30" x2="77.90" y2="157.30" stroke="#000" stroke-width="1.3"/>
<text x="72.90" y="161.80" font-size="10" text-anchor="end" font-weight="bold" fill="#000" stroke-width="0.35">2500</text>
<text x="296.00" y="158.00" font-size="9.8" text-anchor="start" font-weight="bold" fill="#000" stroke-width="0.35">E</text>
<line x1="358.80" y1="223.47" x2="358.80" y2="219.60" stroke="#000" stroke-width="1.0"/>
<line x1="354.80" y1="219.60" x2="362.80" y2="219.60" stroke="#000" stroke-width="1.1"/>
<rect x="350.90" y="223.47" width="15.80" height="37.63" fill="#ffffff" stroke="#000" stroke-width="1.35"/>
<text x="358.80" y="217.30" font-size="8.0" text-anchor="middle" font-weight="normal" fill="#222">a</text>
<line x1="358.80" y1="261.10" x2="358.80" y2="264.10" stroke="#000" stroke-width="1.2"/>
<text x="360.30" y="276.30" font-size="9.3" text-anchor="end" font-weight="bold" fill="#000" stroke-width="0.35" transform="rotate(-28 360.30 276.30)">WT-CT</text>
<line x1="383.60" y1="179.21" x2="383.60" y2="176.58" stroke="#000" stroke-width="1.0"/>
<line x1="379.60" y1="176.58" x2="387.60" y2="176.58" stroke="#000" stroke-width="1.1"/>
<rect x="375.70" y="179.21" width="15.80" height="81.89" fill="#151515" stroke="#000" stroke-width="1.35"/>
<text x="383.60" y="174.28" font-size="8.0" text-anchor="middle" font-weight="normal" fill="#222">b</text>
<line x1="383.60" y1="261.10" x2="383.60" y2="264.10" stroke="#000" stroke-width="1.2"/>
<text x="385.10" y="276.30" font-size="9.3" text-anchor="end" font-weight="bold" fill="#000" stroke-width="0.35" transform="rotate(-28 385.10 276.30)">WT-LPS</text>
<line x1="408.40" y1="209.22" x2="408.40" y2="203.64" stroke="#000" stroke-width="1.0"/>
<line x1="404.40" y1="203.64" x2="412.40" y2="203.64" stroke="#000" stroke-width="1.1"/>
<rect x="400.50" y="209.22" width="15.80" height="51.88" fill="#b8b8b8" stroke="#000" stroke-width="1.35"/>
<text x="408.40" y="201.34" font-size="8.0" text-anchor="middle" font-weight="normal" fill="#222">c</text>
<line x1="408.40" y1="261.10" x2="408.40" y2="264.10" stroke="#000" stroke-width="1.2"/>
<text x="409.90" y="276.30" font-size="9.3" text-anchor="end" font-weight="bold" fill="#000" stroke-width="0.35" transform="rotate(-28 409.90 276.30)">WT-HF</text>
<line x1="433.20" y1="230.50" x2="433.20" y2="228.07" stroke="#000" stroke-width="1.0"/>
<line x1="429.20" y1="228.07" x2="437.20" y2="228.07" stroke="#000" stroke-width="1.1"/>
<rect x="425.30" y="230.50" width="15.80" height="30.60" fill="#b5b5b5" stroke="#000" stroke-width="1.35"/>
<text x="433.20" y="225.77" font-size="8.0" text-anchor="middle" font-weight="normal" fill="#222">a,d</text>
<line x1="433.20" y1="261.10" x2="433.20" y2="264.10" stroke="#000" stroke-width="1.2"/>
<text x="434.70" y="276.30" font-size="9.3" text-anchor="end" font-weight="bold" fill="#000" stroke-width="0.35" transform="rotate(-28 434.70 276.30)">CD14-CT</text>
<line x1="458.00" y1="222.68" x2="458.00" y2="219.60" stroke="#000" stroke-width="1.0"/>
<line x1="454.00" y1="219.60" x2="462.00" y2="219.60" stroke="#000" stroke-width="1.1"/>
<rect x="450.10" y="222.68" width="15.80" height="38.42" fill="#dbdbdb" stroke="#000" stroke-width="1.35"/>
<text x="458.00" y="217.30" font-size="8.0" text-anchor="middle" font-weight="normal" fill="#222">a</text>
<line x1="458.00" y1="261.10" x2="458.00" y2="264.10" stroke="#000" stroke-width="1.2"/>
<text x="459.50" y="276.30" font-size="9.3" text-anchor="end" font-weight="bold" fill="#000" stroke-width="0.35" transform="rotate(-28 459.50 276.30)">CD14-LPS</text>
<line x1="482.80" y1="241.73" x2="482.80" y2="238.64" stroke="#000" stroke-width="1.0"/>
<line x1="478.80" y1="238.64" x2="486.80" y2="238.64" stroke="#000" stroke-width="1.1"/>
<rect x="474.90" y="241.73" width="15.80" height="19.37" fill="#b9b9b9" stroke="#000" stroke-width="1.35"/>
<text x="482.80" y="236.34" font-size="8.0" text-anchor="middle" font-weight="normal" fill="#222">d</text>
<line x1="482.80" y1="261.10" x2="482.80" y2="264.10" stroke="#000" stroke-width="1.2"/>
<text x="484.30" y="276.30" font-size="9.3" text-anchor="end" font-weight="bold" fill="#000" stroke-width="0.35" transform="rotate(-28 484.30 276.30)">CD14-HF</text>
<line x1="346.60" y1="162.60" x2="346.60" y2="261.80" stroke="#000" stroke-width="1.5"/>
<line x1="345.90" y1="261.10" x2="495.40" y2="261.10" stroke="#000" stroke-width="1.5"/>
<line x1="342.80" y1="261.10" x2="346.60" y2="261.10" stroke="#000" stroke-width="1.3"/>
<text x="341.60" y="265.20" font-size="9.3" text-anchor="end" font-weight="bold" fill="#000" stroke-width="0.35">0.00</text>
<line x1="342.80" y1="228.27" x2="346.60" y2="228.27" stroke="#000" stroke-width="1.3"/>
<text x="341.60" y="232.37" font-size="9.3" text-anchor="end" font-weight="bold" fill="#000" stroke-width="0.35">0.05</text>
<line x1="342.80" y1="195.43" x2="346.60" y2="195.43" stroke="#000" stroke-width="1.3"/>
<text x="341.60" y="199.53" font-size="9.3" text-anchor="end" font-weight="bold" fill="#000" stroke-width="0.35">0.10</text>
<line x1="342.80" y1="162.60" x2="346.60" y2="162.60" stroke="#000" stroke-width="1.3"/>
<text x="341.60" y="166.70" font-size="9.3" text-anchor="end" font-weight="bold" fill="#000" stroke-width="0.35">0.15</text>
<text x="25.80" y="207.80" font-size="11.3" text-anchor="middle" font-weight="bold" fill="#000" stroke-width="0.35" transform="rotate(-90 25.80 207.80)">Adipocyte mean</text>
<text x="42.0" y="206.6" font-size="11.7" font-weight="bold" stroke-width="0.35" text-anchor="middle" transform="rotate(-90 42.0 206.6)">area (µm<tspan font-size="7.5" dy="-5">2</tspan><tspan dy="5">)</tspan></text>
<text x="304.40" y="211.40" font-size="10.8" text-anchor="middle" font-weight="bold" fill="#000" stroke-width="0.35" transform="rotate(-90 304.40 211.40)">F4/80 positive cells</text>
<text x="317.00" y="211.60" font-size="10.6" text-anchor="middle" font-weight="bold" fill="#000" stroke-width="0.35" transform="rotate(-90 317.00 211.60)">(+ cells/total cells)</text>
</svg>
</body></html>
